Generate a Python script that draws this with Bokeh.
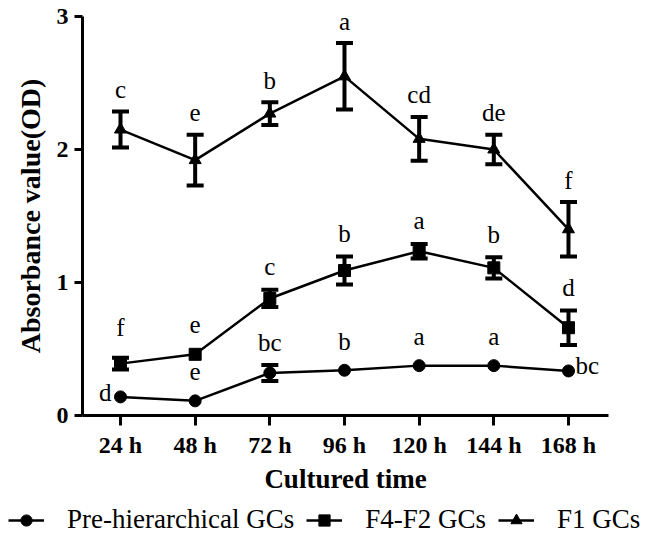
from bokeh.plotting import figure
from bokeh.models import ColumnDataSource, Whisker, TeeHead, Legend, LegendItem, Range1d
from bokeh.core.properties import value
from bokeh.embed import file_html
from bokeh.resources import INLINE

# ---- data ----
times = ["24 h", "48 h", "72 h", "96 h", "120 h", "144 h", "168 h"]

pre_mean = [0.14, 0.11, 0.32, 0.34, 0.375, 0.375, 0.335]
pre_err = [0.0, 0.0, 0.06, 0.0, 0.0, 0.0, 0.0]
pre_sig = ["d", "e", "bc", "b", "a", "a", "bc"]

f42_mean = [0.39, 0.46, 0.88, 1.09, 1.235, 1.11, 0.66]
f42_err = [0.045, 0.0, 0.065, 0.105, 0.055, 0.08, 0.13]
f42_sig = ["f", "e", "c", "b", "a", "b", "d"]

f1_mean = [2.15, 1.92, 2.27, 2.55, 2.08, 2.00, 1.40]
f1_err = [0.135, 0.19, 0.085, 0.25, 0.165, 0.11, 0.205]
f1_sig = ["c", "e", "b", "a", "cd", "de", "f"]

series_names = ["Pre-hierarchical GCs", "F4-F2 GCs", "F1 GCs"]

xs = list(range(1, len(times) + 1))
SERIF = "Liberation Serif"

p = figure(width=651, height=500, output_backend="svg", toolbar_location=None,
           x_range=Range1d(0.491, 7.536), y_range=Range1d(0, 3),
           min_border_left=82, min_border_right=43, min_border_top=16,
           min_border_bottom=85)
p.outline_line_color = None
p.grid.visible = False
p.background_fill_color = "white"

# axes
for ax in (p.xaxis[0], p.yaxis[0]):
    ax.axis_line_width = 3
    ax.major_tick_line_width = 3
    ax.major_tick_in = 0
    ax.minor_tick_line_color = None
    ax.major_label_text_font = SERIF
    ax.major_label_text_font_style = "bold"
    ax.major_label_text_font_size = "24px"
    ax.major_label_text_color = "black"
    ax.axis_label_text_font = SERIF
    ax.axis_label_text_font_style = "bold"
    ax.axis_label_text_color = "black"

p.xaxis.ticker = xs
p.xaxis.major_label_overrides = {x: t for x, t in zip(xs, times)}
p.xaxis.major_tick_out = 10
p.xaxis.major_label_standoff = 6
p.xaxis.axis_label = "Cultured time"
p.xaxis.axis_label_standoff = 3
p.xaxis.axis_label_text_font_size = "27px"

p.yaxis.ticker = [0, 1, 2, 3]
p.yaxis.major_tick_out = 8
p.yaxis.major_label_standoff = 6
p.yaxis.axis_label = "Absorbance value(OD)"
p.yaxis.axis_label_standoff = 8
p.yaxis.axis_label_text_font_size = "28px"

markers = ["circle", "square", "triangle"]
sizes = [12, 12, 12]
all_means = [pre_mean, f42_mean, f1_mean]
all_errs = [pre_err, f42_err, f1_err]

for k in range(3):
    mean, err = all_means[k], all_errs[k]
    # error bars
    wx = [x for x, e in zip(xs, err) if e > 0]
    wu = [m + e for m, e in zip(mean, err) if e > 0]
    wl = [m - e for m, e in zip(mean, err) if e > 0]
    wsrc = ColumnDataSource(dict(x=wx, upper=wu, lower=wl))
    w = Whisker(source=wsrc, base="x", upper="upper", lower="lower",
                line_width=4, line_color="black",
                upper_head=TeeHead(size=17, line_width=4, line_color="black"),
                lower_head=TeeHead(size=17, line_width=4, line_color="black"))
    p.add_layout(w)
    p.line(xs, mean, line_width=2.5, color="black")
    p.scatter(xs, mean, marker=markers[k], size=sizes[k], color="black")

# significance letters
def add_labels(idx, sig, mean, err, base_gap):
    lx = [xs[i] for i in idx]
    ly = [mean[i] + err[i] for i in idx]
    off = [-(base_gap + (7 if err[i] < 0.05 else 0)) for i in idx]
    src = ColumnDataSource(dict(x=lx, y=ly, t=[sig[i] for i in idx], off=off))
    p.text(x="x", y="y", text="t", y_offset="off", source=src,
           text_font=value(SERIF), text_font_size="25px", text_color="black",
           text_align="center", text_baseline="alphabetic")

n = len(xs)
add_labels(list(range(n)), f1_sig, f1_mean, f1_err, 22)
add_labels(list(range(n)), f42_sig, f42_mean, f42_err, 23)
add_labels(list(range(1, n - 1)), pre_sig, pre_mean, pre_err, 22)

p.text(x=[xs[0]], y=[pre_mean[0]], text=[pre_sig[0]], x_offset=-9, y_offset=-4,
       text_font=value(SERIF), text_font_size="25px", text_color="black",
       text_align="right", text_baseline="alphabetic")
p.text(x=[xs[-1]], y=[pre_mean[-1]], text=[pre_sig[-1]], x_offset=7, y_offset=-5,
       text_font=value(SERIF), text_font_size="25px", text_color="black",
       text_align="left", text_baseline="alphabetic")

# ---- legend strip (separate figure below the chart) ----
lg = figure(width=651, height=35, output_backend="svg", toolbar_location=None,
            x_range=Range1d(-20, -19), y_range=Range1d(-20, -19),
            x_axis_location=None, y_axis_location=None,
            min_border=0, min_border_left=0, min_border_right=0,
            min_border_top=0, min_border_bottom=0)
lg.outline_line_color = None
lg.grid.visible = False

items = []
for k in range(3):
    ln = lg.line(xs, all_means[k], line_width=2.5, color="black")
    mk = lg.scatter(xs, all_means[k], marker=markers[k], size=sizes[k], color="black")
    items.append(LegendItem(label=series_names[k], renderers=[ln, mk]))

legend = Legend(items=items, orientation="horizontal", location=(8, 0),
                glyph_width=36, glyph_height=28, label_standoff=23, spacing=12,
                padding=0, margin=0, border_line_color=None,
                background_fill_alpha=0,
                label_text_font=SERIF, label_text_font_size="27px",
                label_text_color="black")
lg.add_layout(legend, "center")

open("out.html", "w").write(file_html([p, lg], INLINE))
